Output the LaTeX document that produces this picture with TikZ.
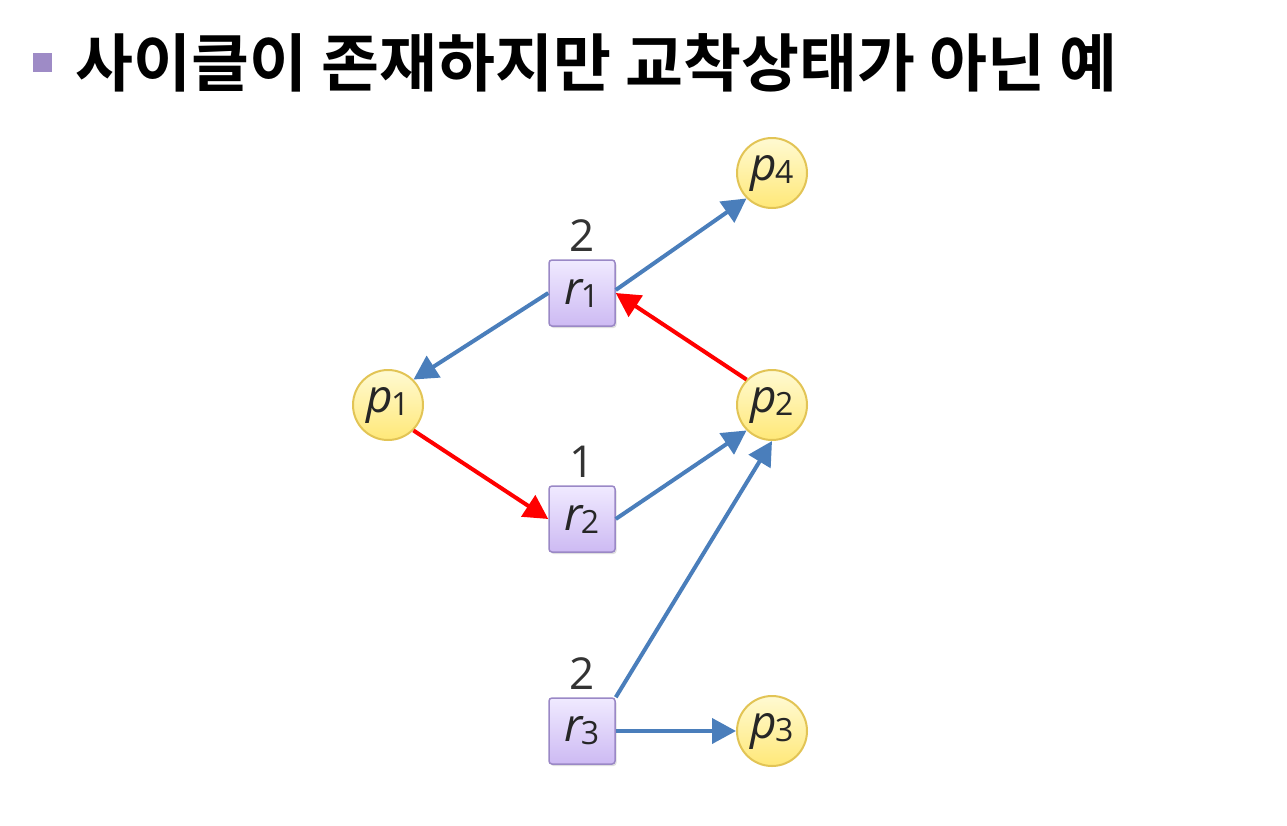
\documentclass[tikz,border=0pt]{standalone}
\usepackage{fontspec}
\usetikzlibrary{arrows.meta,shadows}
\newfontfamily\titlefont{Noto Sans CJK KR}[BoldFont={* Bold}]
\newfontfamily\lblfont{Open Sans}
\definecolor{edgeblue}{HTML}{4A7EBB}
\definecolor{edgered}{HTML}{FF0000}
\definecolor{bulletc}{HTML}{9E8BC6}
\definecolor{procline}{HTML}{E2C455}
\definecolor{proctop}{HTML}{FFFAD2}
\definecolor{procbot}{HTML}{FFE878}
\definecolor{resline}{HTML}{9A88C6}
\definecolor{restop}{HTML}{F0EAFF}
\definecolor{resbot}{HTML}{CDBAF3}
\definecolor{numc}{HTML}{333333}
\newcommand{\lbl}[2]{{\lblfont\fontsize{46}{46}\selectfont\itshape #1}\kern-2pt\raisebox{-0.3em}{\lblfont\fontsize{32}{32}\selectfont #2}}
\begin{document}
\begin{tikzpicture}[x=1pt,y=-1pt,
  proc/.style={circle,minimum size=70pt,inner sep=0pt,draw=procline,line width=2pt,top color=proctop,bottom color=procbot,text=black!85},
  res/.style={rectangle,rounded corners=3pt,minimum size=66pt,inner sep=0pt,draw=resline,line width=1.5pt,top color=restop,bottom color=resbot,text=black!85,drop shadow={shadow xshift=1.5pt,shadow yshift=-2pt,opacity=0.25}},
  num/.style={font=\lblfont\fontsize{44}{44}\selectfont,text=numc,inner sep=0pt},
  blueedge/.style={draw=edgeblue,line width=4pt,-{Triangle[length=24pt,width=25pt]}},
  rededge/.style={draw=edgered,line width=4pt,-{Triangle[length=24pt,width=25pt]}}]
\useasboundingbox (0,0) rectangle (1287,825);
% title
\node[fill=bulletc,minimum size=19pt,inner sep=0pt] (bullet) at (42.5,62.5) {};
\node[anchor=base west,inner sep=0pt,font=\titlefont\bfseries\fontsize{63}{63}\selectfont] (title) at (75,86) {사이클이 존재하지만 교착상태가 아닌 예};
% nodes
\node[proc] (p4) at (772,173) {\lbl{p}{4}};
\node[proc] (p1) at (388,405) {\lbl{p}{1}};
\node[proc] (p2) at (772,405) {\lbl{p}{2}};
\node[proc] (p3) at (772,731) {\lbl{p}{3}};
\node[res] (r1) at (582,293) {\lbl{r}{1}};
\node[res] (r2) at (582,519) {\lbl{r}{2}};
\node[res] (r3) at (582,731) {\lbl{r}{3}};
\node[num] (n1) at (582,236) {2};
\node[num] (n2) at (582,462) {1};
\node[num] (n3) at (582,674) {2};
% edges
\draw[blueedge] ([yshift=3pt]r1.east) -- (p4.south west);
\draw[blueedge] (r1.west) -- (p1.north east);
\draw[rededge] (p2.north west) -- (r1.east);
\draw[rededge] (p1.south east) -- (r2.west);
\draw[blueedge] (r2.east) -- (p2.south west);
\draw[blueedge] (r3.north east) -- (p2.south);
\draw[blueedge] (r3.east) -- (p3.west);
\end{tikzpicture}
\end{document}
